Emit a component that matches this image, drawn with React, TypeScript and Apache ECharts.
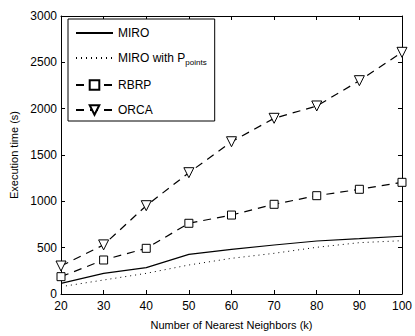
import React, { useEffect, useRef } from "react";
import * as echarts from "echarts";

const kValues = [20, 30, 40, 50, 60, 70, 80, 90, 100];
const miro = [115, 223, 284, 428, 482, 529, 572, 597, 623];
const miroP = [79, 151, 223, 313, 385, 439, 504, 554, 575];
const rbrp = [187, 367, 493, 763, 852, 968, 1061, 1130, 1205];
const orca = [302, 530, 953, 1309, 1643, 1896, 2029, 2302, 2608];
const seriesNames = ["MIRO", "MIRO with P", "RBRP", "ORCA"];

const FONT = "Liberation Sans, Arial, Helvetica, sans-serif";

export default function App() {
  const ref = useRef<HTMLDivElement>(null);
  useEffect(() => {
    const chart = echarts.init(ref.current!, null, { renderer: "svg" });
    const pairs = (ys: number[]) => kValues.map((k, i) => [k, ys[i]]);
    const axisCommon = {
      type: "value" as const,
      axisLine: { show: true, onZero: false, lineStyle: { color: "#000", width: 1 } },
      axisTick: { show: true, inside: true, length: 4, lineStyle: { color: "#000" } },
      splitLine: { show: false },
    };
    chart.setOption({
      animation: false,
      backgroundColor: "#fff",
      textStyle: { fontFamily: FONT },
      grid: { left: 61, right: 12, top: 16, bottom: 42, containLabel: false },
      xAxis: [
        {
          ...axisCommon,
          min: 20,
          max: 100,
          interval: 10,
          position: "bottom",
          name: "Number of Nearest Neighbors (k)",
          nameLocation: "middle",
          nameGap: 25,
          nameTextStyle: { fontSize: 11, color: "#000", fontFamily: FONT },
          axisLabel: { fontSize: 12, color: "#000", margin: 6, fontFamily: FONT },
        },
        {
          ...axisCommon,
          min: 20,
          max: 100,
          interval: 10,
          position: "top",
          axisLabel: { show: false },
        },
      ],
      yAxis: [
        {
          ...axisCommon,
          min: 0,
          max: 3000,
          interval: 500,
          position: "left",
          name: "Execution time (s)",
          nameLocation: "middle",
          nameGap: 41,
          nameRotate: 90,
          nameTextStyle: { fontSize: 11, color: "#000", fontFamily: FONT },
          axisLabel: {
            fontSize: 12,
            color: "#000",
            margin: 4,
            fontFamily: FONT,
            formatter: (v: number) => String(v),
          },
        },
        {
          ...axisCommon,
          min: 0,
          max: 3000,
          interval: 500,
          position: "right",
          axisLabel: { show: false },
        },
      ],
      legend: {
        orient: "vertical",
        left: 68,
        top: 19,
        padding: [8, 8, 5, 7],
        itemGap: 13,
        itemWidth: 37,
        itemHeight: 12,
        backgroundColor: "#fff",
        borderColor: "#000",
        borderWidth: 1,
        borderRadius: 0,
        data: [
          { name: seriesNames[0], itemStyle: { opacity: 0 } },
          { name: seriesNames[1], itemStyle: { opacity: 0 } },
          { name: seriesNames[2] },
          { name: seriesNames[3] },
        ],
        formatter: (name: string) =>
          name === "MIRO with P" ? "MIRO with P{sub|points}" : name,
        textStyle: {
          fontSize: 12,
          color: "#000",
          fontFamily: FONT,
          rich: {
            sub: { fontSize: 8, fontFamily: FONT, color: "#000", padding: [8, 0, 0, 0] },
          },
        },
      },
      series: [
        {
          name: "MIRO",
          type: "line",
          data: pairs(miro),
          showSymbol: false,
          symbol: "none",
          lineStyle: { color: "#000", width: 1.2, type: "solid" },
          itemStyle: { color: "#000" },
        },
        {
          name: "MIRO with P",
          type: "line",
          data: pairs(miroP),
          showSymbol: false,
          symbol: "none",
          lineStyle: { color: "#000", width: 1, type: [1, 4] },
          itemStyle: { color: "#000" },
        },
        {
          name: "RBRP",
          type: "line",
          data: pairs(rbrp),
          symbol: "rect",
          symbolSize: 8,
          lineStyle: { color: "#000", width: 1.2, type: [8, 6] },
          itemStyle: { color: "#fff", borderColor: "#000", borderWidth: 1 },
        },
        {
          name: "ORCA",
          type: "line",
          data: pairs(orca),
          symbol: "triangle",
          symbolRotate: 180,
          symbolSize: 10,
          lineStyle: { color: "#000", width: 1.2, type: [8, 6] },
          itemStyle: { color: "#fff", borderColor: "#000", borderWidth: 1 },
        },
      ],
    });
    return () => chart.dispose();
  }, []);
  return <div ref={ref} style={{ width: 415, height: 336, position: "absolute", left: 0, top: 0 }} />;
}
